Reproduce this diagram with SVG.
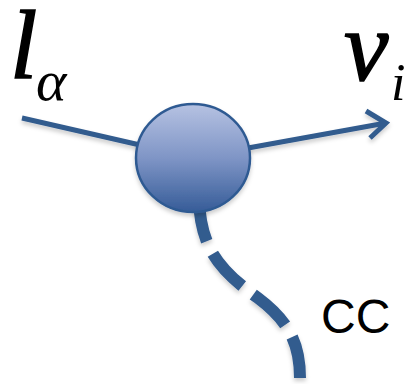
<svg xmlns="http://www.w3.org/2000/svg" width="410" height="384" viewBox="0 0 410 384">
<style>
.ln{fill:none;stroke:#325B8E;stroke-width:5}
.dash{fill:none;stroke:#325B8E;stroke-width:12;stroke-dasharray:44 14}
.m{font-family:"Liberation Serif",serif;font-style:italic;fill:#000}
.t{font-family:"Liberation Sans",sans-serif;fill:#000}
</style>
<defs>
<linearGradient id="g" x1="0" y1="0" x2="0" y2="1">
<stop offset="0" stop-color="#B6C2E2"/>
<stop offset="0.5" stop-color="#7F95C6"/>
<stop offset="1" stop-color="#365C98"/>
</linearGradient>
<filter id="sh" x="-20%" y="-20%" width="140%" height="140%">
<feDropShadow dx="0" dy="3" stdDeviation="2" flood-color="#000" flood-opacity="0.2"/>
</filter>
</defs>
<g id="connectors" filter="url(#sh)">
<path class="ln" d="M22 118 L140 145"/>
<path class="ln" d="M248 148 L386 123"/>
<path class="ln" d="M366 111 L386 123 L370 138"/>
<path class="dash" d="M199 198 C200 250 222 272 258 298 C290 322 300 345 300 378"/>
</g>
<g id="vertex" filter="url(#sh)">
<ellipse cx="193" cy="158" rx="57" ry="54" fill="url(#g)" stroke="#2F5A92" stroke-width="2.5"/>
</g>
<g id="label-l">
<text class="m" x="10" y="78" font-size="98" stroke="#000" stroke-width="1.5">l</text>
<text class="m" x="36" y="100" font-size="58">α</text>
</g>
<g id="label-nu">
<text class="m" x="344" y="80" font-size="100" stroke="#000" stroke-width="1.5">ν</text>
<text class="m" x="391" y="100" font-size="52">i</text>
</g>
<g id="label-cc">
<text class="t" x="321" y="333" font-size="48">CC</text>
</g>
</svg>
